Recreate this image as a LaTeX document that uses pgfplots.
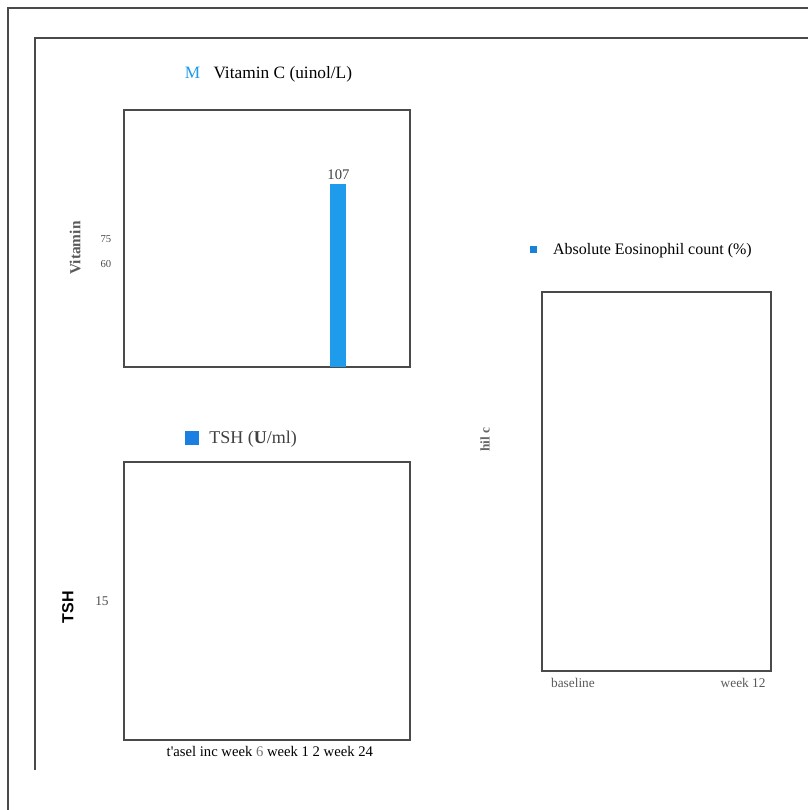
\documentclass[border=0pt]{standalone}
\usepackage{pgfplots}
\pgfplotsset{compat=1.18}
\usepackage{fontspec}
\setmainfont{Liberation Serif}
\newfontfamily\arialfont{Liberation Sans}
\definecolor{vcblue}{HTML}{1E9BEA}
\definecolor{tshblue}{HTML}{1A7FE0}
\definecolor{eosblue}{HTML}{1A80D8}
\definecolor{framec}{HTML}{4A4A4A}
\pgfplotsset{myax/.style={scale only axis, anchor=north west,
  axis line style={framec, line width=1.2pt},
  tick style={draw=none},
  /pgf/number format/assume math mode=true}}
\begin{document}
\begin{tikzpicture}
\path[use as bounding box] (0,0) rectangle (606pt,-607.5pt);
\draw[framec, line width=1.2pt] (6pt,-607.5pt) -- (6pt,-6pt) -- (606pt,-6pt);
\draw[framec, line width=0.9pt] (26.25pt,-577.5pt) -- (26.25pt,-28.5pt) -- (606pt,-28.5pt);

% Vitamin C
\begin{axis}[myax, at={(93pt,-82.5pt)}, width=214.5pt, height=192.75pt,
  xmin=0, xmax=4, ymin=0, ymax=150.3,
  xtick=\empty, ytick={60,75},
  yticklabel style={font=\fontsize{8}{9}\selectfont, text=black!70, xshift=-6pt},
  ylabel={\bfseries Vitamin},
  ylabel style={at={(axis description cs:-0.171,0.463)}, anchor=center, rotate=0, font=\fontsize{11.5}{13}\selectfont, text=black!65},
  title={\textcolor{vcblue}{M}\hspace{10pt}Vitamin C (uinol/L)},
  title style={at={(axis description cs:0.505,1.109)}, anchor=center, yshift=0pt, font=\fontsize{13}{15}\selectfont},
]
\addplot[ybar, bar width=12pt, fill=vcblue, draw=none,
  nodes near coords, nodes near coords style={font=\fontsize{11}{13}\selectfont, text=black!75}]
  coordinates {(3,107)};
\end{axis}

% TSH
\begin{axis}[myax, at={(93pt,-346.5pt)}, width=214.5pt, height=208.5pt,
  xmin=0, xmax=4, ymin=0, ymax=30,
  xtick=\empty, ytick={15},
  yticklabel style={font=\fontsize{10}{12}\selectfont, text=black!70, xshift=-8pt},
  xlabel={t\textquotesingle asel inc week {\color{black!55}6} week 1 2 week 24},
  xlabel style={at={(axis description cs:0.51,-0.043)}, anchor=center, font=\fontsize{11}{13}\selectfont},
  ylabel={\arialfont\bfseries TSH},
  ylabel style={at={(axis description cs:-0.196,0.478)}, anchor=center, font=\fontsize{12}{14}\selectfont},
  legend style={draw=none, fill=none, at={(axis description cs:0.414,1.086)}, anchor=center,
    font=\fontsize{13.5}{15}\selectfont, text=black!75},
]
\addlegendimage{legend image code/.code={\fill[tshblue, draw=none] (0pt,-5.25pt) rectangle (10.5pt,5.25pt); \path[draw=none, fill=none] (0pt,0pt) -- (16pt,0pt);}}
\addlegendentry{TSH (\textbf{U}/ml)}
\end{axis}

% Eosinophil
\begin{axis}[myax, at={(406.5pt,-219pt)}, width=171.75pt, height=284.25pt,
  xmin=-0.182, xmax=1.164, ymin=0, ymax=1,
  xtick={0,1}, xticklabels={baseline, week 12}, ytick=\empty,
  xticklabel style={font=\fontsize{10}{12}\selectfont, text=black!65, yshift=-2pt},
  ylabel={\bfseries hil c},
  ylabel style={at={(axis description cs:-0.249,0.61)}, anchor=center, font=\fontsize{10}{12}\selectfont, text=black!60},
  legend style={draw=none, fill=none, at={(axis description cs:-0.075,1.111)}, anchor=west,
    font=\fontsize{12}{14}\selectfont},
]
\addlegendimage{legend image code/.code={\fill[eosblue, draw=none] (0.5pt,-2.6pt) rectangle (5.7pt,2.6pt); \path[draw=none, fill=none] (0pt,0pt) -- (16pt,0pt);}}
\addlegendentry{Absolute Eosinophil count (\%)}
\end{axis}
\end{tikzpicture}
\end{document}
